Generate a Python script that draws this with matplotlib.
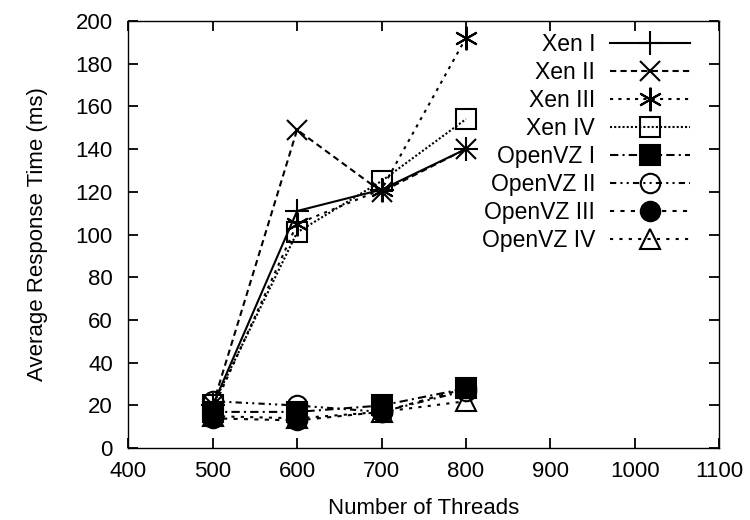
import matplotlib
matplotlib.use('Agg')
import matplotlib.pyplot as plt

plt.rcParams['font.family'] = ['Liberation Sans', 'DejaVu Sans']

threads = [500, 600, 700, 800]

xen_1 = [20, 111, 121, 140]
xen_2 = [20, 149, 120, 140]
xen_3 = [18, 105, 121, 192]
xen_4 = [20, 101, 125, 154]
ovz_1 = [17, 17, 20, 28]
ovz_2 = [22, 20, 17, 27]
ovz_3 = [14, 13, 17, 28]
ovz_4 = [15, 14, 17, 22]

labels = ['Xen I', 'Xen II', 'Xen III', 'Xen IV',
          'OpenVZ I', 'OpenVZ II', 'OpenVZ III', 'OpenVZ IV']

fig = plt.figure(figsize=(7.5, 5.2), dpi=100)
ax = fig.add_axes([0.171, 0.138, 0.788, 0.822])

styles = [
    dict(ls='-', marker='+', mfc='none', ms=17, mew=1.5),
    dict(ls=(0, (3, 2)), marker='x', mfc='none', ms=15, mew=1.5),
    dict(ls=(0, (1.5, 2.5)), marker=(6, 2, 0), mfc='none', ms=17, mew=1.5),
    dict(ls=(0, (1, 1)), marker='s', mfc='none', ms=15, mew=1.5),
    dict(ls=(0, (4, 2, 1, 2)), marker='s', mfc='black', ms=14, mew=1.5),
    dict(ls=(0, (3, 2, 1, 2, 1, 2)), marker='o', mfc='none', ms=14, mew=1.5),
    dict(ls=(0, (2, 3)), marker='o', mfc='black', ms=14, mew=1.5),
    dict(ls=(0, (1.5, 3)), marker='^', mfc='none', ms=14, mew=1.5),
]
series = [xen_1, xen_2, xen_3, xen_4, ovz_1, ovz_2, ovz_3, ovz_4]

for y, lab, st in zip(series, labels, styles):
    ax.plot(threads, y, color='black', lw=1.5, mec='black', label=lab, **st)

ax.set_xlim(400, 1100)
ax.set_ylim(0, 200)
ax.set_xticks(range(400, 1101, 100))
ax.set_yticks(range(0, 201, 20))
ax.tick_params(direction='in', top=True, right=True, length=7, width=1.3,
               labelsize=16)
ax.tick_params(axis='x', pad=9)
ax.tick_params(axis='y', pad=11)
for s in ax.spines.values():
    s.set_linewidth(1.0)

ax.set_xlabel('Number of Threads', fontsize=16, labelpad=12)
ax.set_ylabel('Average Response Time (ms)', fontsize=16, labelpad=20)

leg = ax.legend(loc='upper right', bbox_to_anchor=(0.951, 0.972), frameon=False,
                markerfirst=False, fontsize=16.5, handlelength=3.5,
                labelspacing=0.22, handletextpad=0.65, borderaxespad=0,
                borderpad=0)

fig.savefig('out.png', dpi=100)
